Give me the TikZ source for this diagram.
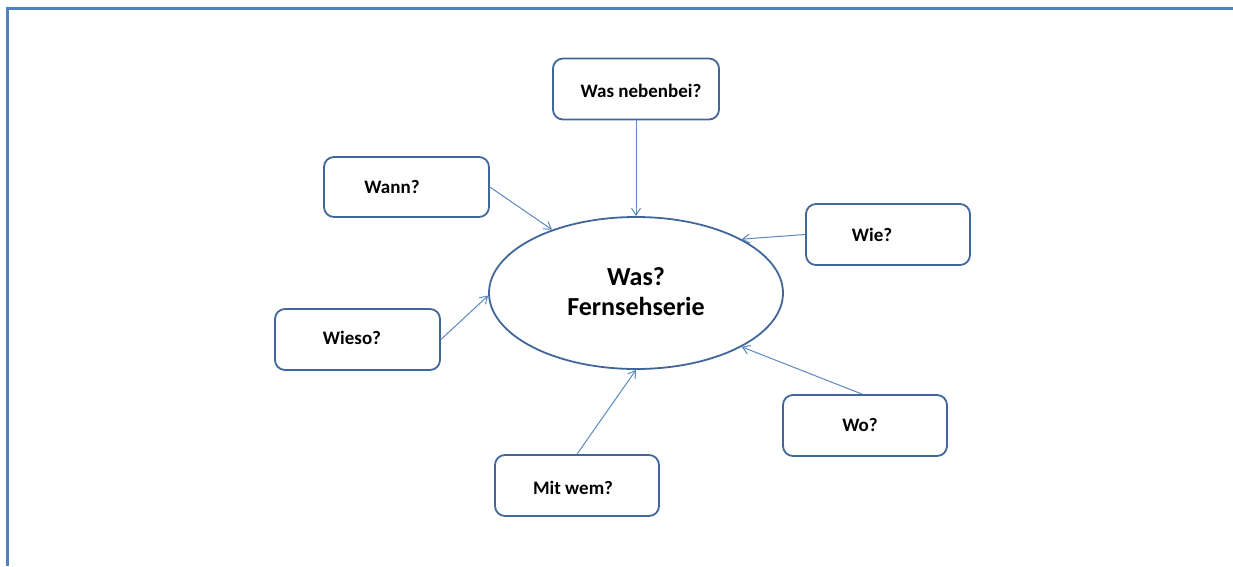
\documentclass[tikz,border=0pt]{standalone}
\usepackage{fontspec}
\setmainfont{Carlito}
\usetikzlibrary{shapes.geometric,arrows.meta}
\definecolor{frameblue}{HTML}{4F81BD}
\definecolor{boxblue}{HTML}{41679A}
\definecolor{arrowblue}{HTML}{5A88C2}
\tikzset{
  qbox/.style={draw=boxblue, line width=1.8pt, rounded corners=10pt, minimum width=#1, minimum height=61pt, inner sep=0pt, fill=white},
  qbox/.default=165pt,
  qtext/.style={font=\fontsize{19}{22}\selectfont\bfseries, inner sep=0pt},
  conn/.style={draw=arrowblue, line width=1pt, -{Straight Barb[length=7pt,width=9pt,line width=1pt]}},
}
\begin{document}
\begin{tikzpicture}[x=1pt,y=-1pt]
\useasboundingbox (0,0) rectangle (1233,566);
% frame
\draw[frameblue, line width=2.6pt] (7.5,566) -- (7.5,8.7) -- (1233,8.7);
% centre
\node[ellipse, draw=boxblue, line width=1.8pt, minimum width=294pt, minimum height=152pt, inner sep=0pt] (ell) at (636,293) {};
\node[font=\fontsize{26}{30}\selectfont\bfseries, align=center, inner sep=0pt] (main) at (636,292) {Was?\\Fernsehserie};
% boxes
\node[qbox=166pt] (neben) at (636,89) {};
\node[qtext] (nebent) at (641,91) {Was nebenbei?};
\node[qbox, minimum height=60pt] (wann) at (406.5,187) {};
\node[qtext] (wannt) at (392,187) {Wann?};
\node[qbox=164pt] (wie) at (888,234.5) {};
\node[qtext] (wiet) at (872,235) {Wie?};
\node[qbox] (wieso) at (357.5,339.5) {};
\node[qtext] (wiesot) at (352,338) {Wieso?};
\node[qbox=164pt] (wo) at (865,425.5) {};
\node[qtext] (wot) at (860,425) {Wo?};
\node[qbox=164pt] (mit) at (577,485.5) {};
\node[qtext] (mitt) at (573,488) {Mit wem?};
% connectors
\draw[conn] (neben.south) -- (ell.90);
\draw[conn] (wann.east) -- (ell.143.2);
\draw[conn] (wie.west) -- (ell.27.2);
\draw[conn] (wieso.east) -- (ell.181);
\draw[conn] ([xshift=-3pt]wo.north) -- (ell.-27.6);
\draw[conn] (mit.north) -- (ell.270);
\end{tikzpicture}
\end{document}
